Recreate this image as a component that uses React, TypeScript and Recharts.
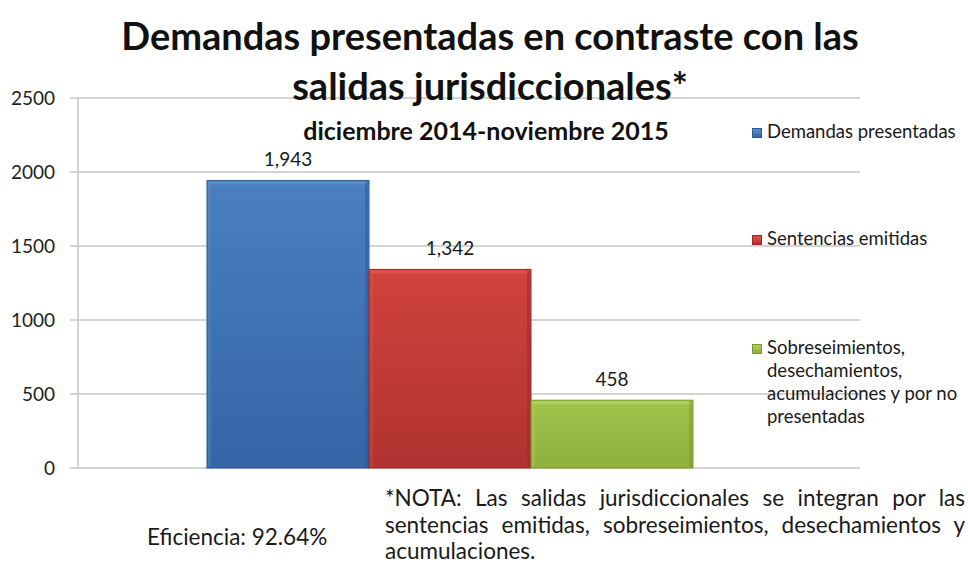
import React from 'react';
import { BarChart, Bar, XAxis, YAxis, CartesianGrid, Legend, LabelList } from 'recharts';

// values
const categories = ['dic 2014 - nov 2015'];
const seriesKeys = ['demandas', 'sentencias', 'sobreseimientos'];
const seriesNames = [
  'Demandas presentadas',
  'Sentencias emitidas',
  'Sobreseimientos, desechamientos, acumulaciones y por no presentadas',
];
const demandas = [1943];
const sentencias = [1342];
const sobreseimientos = [458];
const yTicks = [0, 500, 1000, 1500, 2000, 2500];

const titleLines = ['Demandas presentadas en contraste con las', 'salidas jurisdiccionales*'];
const subtitle = 'diciembre 2014-noviembre 2015';
const efficiencyText = 'Eficiencia: 92.64%';
const noteText =
  '*NOTA: Las salidas jurisdiccionales se integran por las sentencias emitidas, sobreseimientos, desechamientos y acumulaciones.';

const palette = [
  { top: '#5b90d3', mid: '#4a7fc0', bottom: '#3565a7', edge: '#2d5892' },
  { top: '#e0524a', mid: '#d0423d', bottom: '#b03331', edge: '#962a28' },
  { top: '#b2d15c', mid: '#a0c24a', bottom: '#8fb03c', edge: '#7a9832' },
];

const FONT = 'Lato, "Open Sans", sans-serif';

const data = categories.map((name, i) => ({
  name,
  demandas: demandas[i],
  sentencias: sentencias[i],
  sobreseimientos: sobreseimientos[i],
}));

const BevelBar = (props: any) => {
  const { x, y, width, height, idx } = props;
  if (!height || height <= 0) return null;
  const c = palette[idx];
  return (
    <g>
      <rect x={x} y={y} width={width} height={height} fill={`url(#grad${idx})`} stroke={c.edge} strokeWidth={1} />
      <rect x={x + 1} y={y + 1} width={width - 2} height={3} fill={c.top} opacity={0.9} />
      <rect x={x + 1} y={y + 1} width={3} height={height - 2} fill={c.top} opacity={0.35} />
      <rect x={x + width - 4} y={y + 1} width={3} height={height - 2} fill={c.edge} opacity={0.5} />
    </g>
  );
};

const legendOffsets = [0, 84, 86];

const renderLegend = (props: any) => {
  const { payload } = props;
  return (
    <div style={{ fontFamily: FONT, fontSize: 18.5, color: '#1a1a1a', lineHeight: '23px', textAlign: 'left' }}>
      {(payload || []).map((entry: any, i: number) => (
        <div key={i} style={{ display: 'flex', alignItems: 'flex-start', marginTop: legendOffsets[i] }}>
          <span
            style={{
              display: 'inline-block',
              width: 8,
              height: 8,
              marginTop: 8,
              marginRight: 5,
              flex: '0 0 auto',
              background: `linear-gradient(${palette[i].top}, ${palette[i].bottom})`,
              border: `1px solid ${palette[i].edge}`,
            }}
          />
          <span style={{ width: 200 }}>{entry.value}</span>
        </div>
      ))}
    </div>
  );
};

export default function App() {
  return (
    <div
      style={{
        position: 'absolute',
        left: 0,
        top: 0,
        width: 968,
        height: 569,
        background: '#fff',
        overflow: 'hidden',
        fontFamily: FONT,
      }}
    >
      <BarChart
        width={968}
        height={569}
        data={data}
        margin={{ top: 98, right: 108, left: 8, bottom: 101 }}
        barGap={0}
        barCategoryGap={0}
      >
        <defs>
          {palette.map((c, i) => (
            <linearGradient key={i} id={`grad${i}`} x1="0" y1="0" x2="0" y2="1">
              <stop offset="0%" stopColor={c.mid} />
              <stop offset="100%" stopColor={c.bottom} />
            </linearGradient>
          ))}
        </defs>
        <CartesianGrid vertical={false} stroke="#c6c6c6" strokeWidth={1.5} />
        <XAxis
          dataKey="name"
          tick={false}
          tickLine={false}
          height={0}
          axisLine={{ stroke: '#c6c6c6', strokeWidth: 1.5 }}
          padding={{ left: 129, right: 166 }}
        />
        <YAxis
          width={70}
          domain={[0, 2500]}
          ticks={yTicks}
          interval={0}
          axisLine={{ stroke: '#c6c6c6', strokeWidth: 1.5 }}
          tickLine={{ stroke: '#c6c6c6', strokeWidth: 1.5 }}
          tickSize={8}
          tickMargin={15}
          tick={{ fill: '#222', fontSize: 19, fontFamily: FONT }}
        />
        <Legend
          layout="horizontal"
          align="center"
          verticalAlign="middle"
          content={renderLegend}
          wrapperStyle={{ position: 'absolute', left: 752, top: 120, width: 214 }}
        />
        {seriesKeys.map((key, i) => (
          <Bar
            key={key}
            dataKey={key}
            name={seriesNames[i]}
            fill={palette[i].mid}
            isAnimationActive={false}
            shape={(p: any) => <BevelBar {...p} idx={i} />}
          >
            <LabelList
              dataKey={key}
              position="top"
              offset={14}
              fill="#1a1a1a"
              fontSize={19}
              fontFamily={FONT}
              formatter={(v: any) => Number(v).toLocaleString('en-US')}
            />
          </Bar>
        ))}
      </BarChart>

      <div
        style={{
          position: 'absolute',
          left: 0,
          width: 980,
          top: 10,
          textAlign: 'center',
          fontWeight: 700,
          fontSize: 38,
          lineHeight: '50px',
          color: '#111',
        }}
      >
        {titleLines.map((t, i) => (
          <div key={i}>{t}</div>
        ))}
      </div>
      <div
        style={{
          position: 'absolute',
          left: 0,
          width: 972,
          top: 115,
          textAlign: 'center',
          fontWeight: 700,
          fontSize: 25,
          color: '#111',
        }}
      >
        {subtitle}
      </div>
      <div style={{ position: 'absolute', left: 147, top: 523, fontSize: 22.5, color: '#1a1a1a' }}>
        {efficiencyText}
      </div>
      <div
        style={{
          position: 'absolute',
          left: 385,
          top: 485,
          width: 580,
          fontSize: 22.5,
          lineHeight: '26.5px',
          textAlign: 'justify',
          color: '#1a1a1a',
        }}
      >
        {noteText}
      </div>
    </div>
  );
}
